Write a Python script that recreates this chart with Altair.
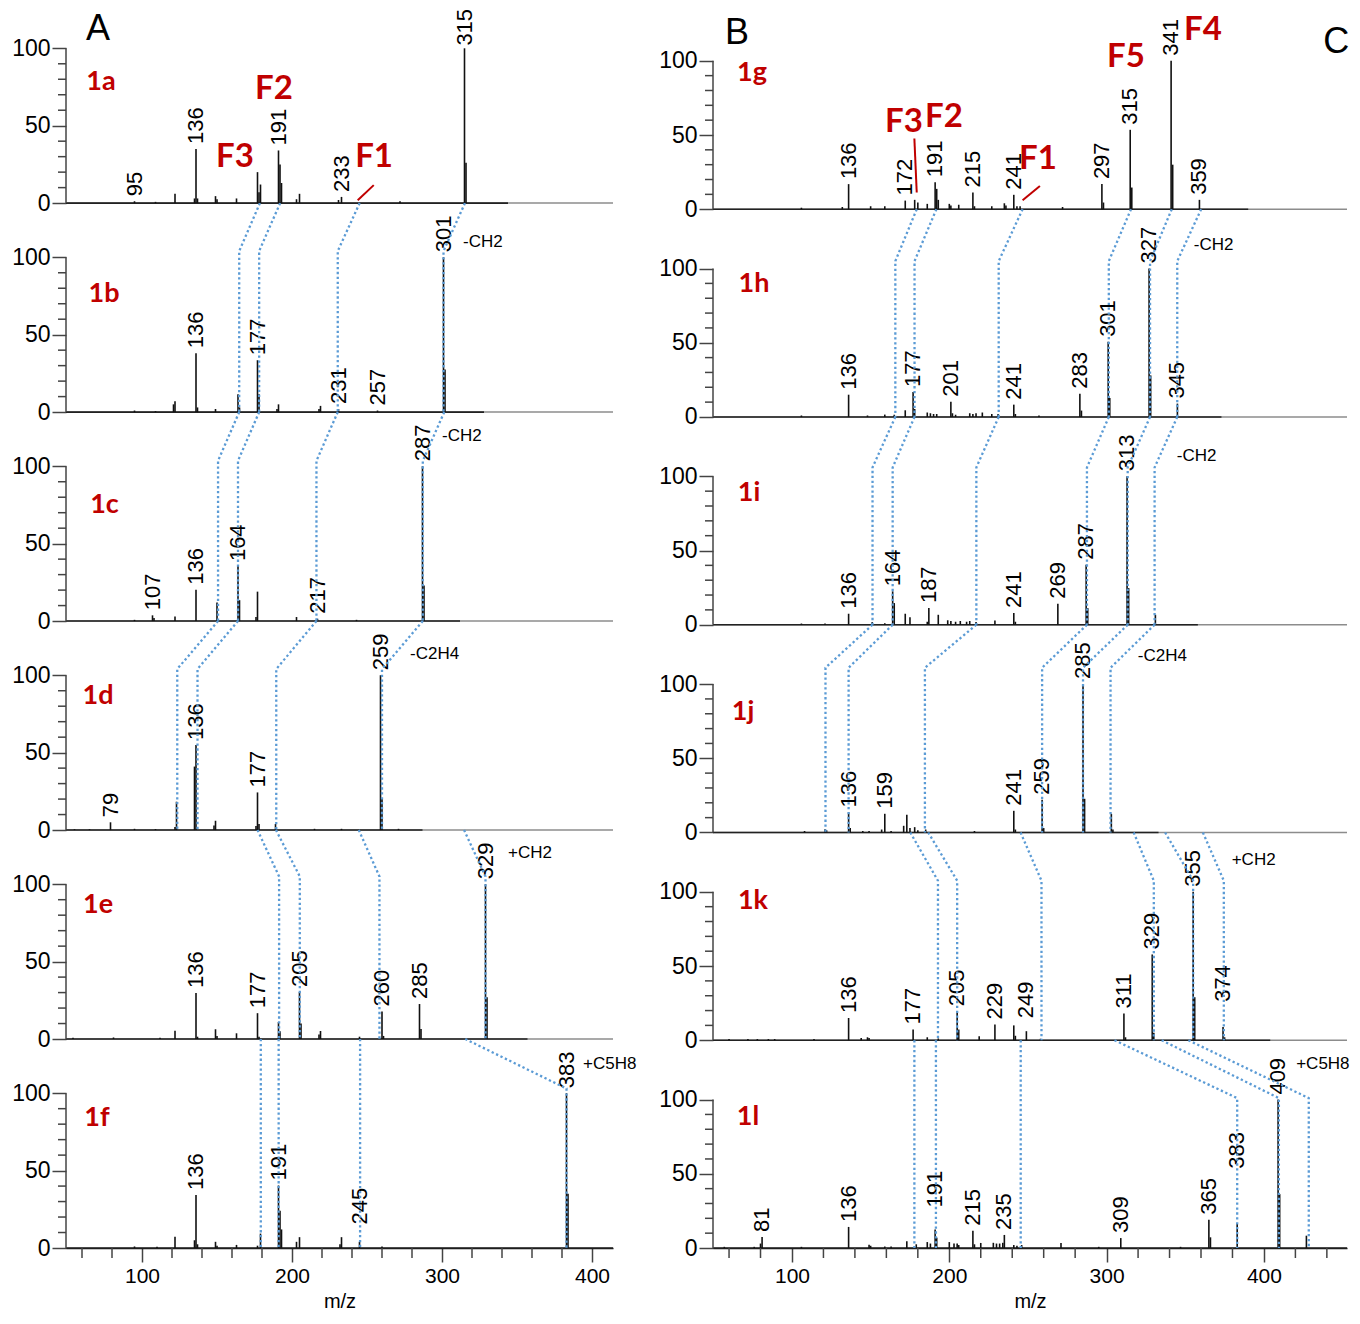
import altair as alt
import pandas as pd

FONT = "Liberation Sans"
LABEL_FONT = "Lato"
RED = "#C00000"
BLUE = "#5B9BD5"
INK = "#111111"
AXIS_INK = "#444444"

# ---------------- spectra: m/z and relative intensity (%) ----------------
MZ_1A = [95, 109, 122, 135, 136, 137, 149, 150, 163, 177, 178, 179, 191, 192, 193, 203, 205, 231, 233, 272, 315, 316]
IN_1A = [1.2, 0.8, 6, 3, 35, 3, 4.5, 2.5, 3, 20, 7, 12, 34, 25, 13, 2.5, 6, 2, 4, 1.2, 100, 26]
LB_1A = [95, 136, 191, 233, 315]

MZ_1B = [95, 109, 121, 122, 136, 137, 149, 164, 165, 177, 178, 190, 191, 218, 219, 231, 257, 301, 302]
IN_1B = [1, 0.6, 5, 7, 38, 3, 2, 11.5, 3, 33.5, 11.5, 2, 5, 2, 4, 2, 1, 100, 27.5]
LB_1B = [136, 177, 231, 257, 301]

MZ_1C = [95, 107, 108, 122, 136, 150, 164, 165, 176, 177, 203, 217, 243, 287, 288]
IN_1C = [0.8, 3.7, 2, 3, 20.3, 12, 35.5, 13.5, 2.6, 19, 2.6, 1.5, 0.8, 100, 23]
LB_1C = [107, 136, 164, 217, 287]

MZ_1D = [55, 65, 79, 95, 109, 122, 123, 135, 136, 148, 149, 176, 177, 178, 189, 215, 233, 259, 260, 271]
IN_1D = [0.5, 0.5, 5, 0.8, 0.6, 2, 18.3, 41, 55, 3, 6, 2.6, 24.3, 3.9, 3.9, 0.8, 0.8, 100, 20, 0.8]
LB_1D = [79, 136, 177, 259]

MZ_1E = [54, 81, 112, 122, 136, 137, 149, 150, 163, 177, 178, 191, 192, 205, 206, 218, 219, 245, 260, 261, 285, 286, 329, 330]
IN_1E = [0.8, 1, 0.8, 5.4, 29.8, 1.5, 6.3, 2, 3.7, 16.7, 1.5, 11, 5, 30.4, 10, 3, 5.2, 1.5, 17.8, 2, 22.6, 6.5, 100, 27]
LB_1E = [136, 177, 205, 260, 285, 329]

MZ_1F = [95, 110, 122, 135, 136, 137, 149, 150, 163, 177, 179, 191, 192, 193, 203, 205, 232, 233, 245, 260, 383, 384]
IN_1F = [1, 0.8, 7.2, 5, 34.3, 2.4, 4, 1.5, 2, 1.5, 9.3, 40.4, 24, 12, 4, 7, 2.5, 7, 4, 1, 100, 35]
LB_1F = [136, 191, 245, 383]

MZ_1G = [106, 132, 136, 150, 159, 172, 178, 180, 186, 191, 192, 193, 200, 201, 206, 215, 216, 227, 235, 236,
         241, 243, 245, 272, 297, 298, 315, 316, 341, 342, 359]
IN_1G = [1, 1.5, 16.9, 2, 2, 5.8, 6.3, 4.5, 3.6, 18.2, 13.7, 6.3, 3.6, 2.5, 3, 11.2, 2, 2, 4, 2.5,
         9.7, 2, 2, 1.5, 16.9, 4.5, 53.5, 14.6, 100, 30, 6.3]
LB_1G = [136, 172, 191, 215, 241, 297, 315, 341, 359]

MZ_1H = [106, 136, 148, 159, 165, 172, 177, 178, 186, 188, 190, 192, 201, 202, 204, 213, 215, 217, 221, 227,
         231, 241, 242, 257, 283, 284, 301, 302, 327, 328, 345]
IN_1H = [1, 15, 1, 1.6, 1.5, 4.5, 16.9, 5.4, 3, 2.5, 2, 2, 10.3, 2.5, 1.5, 2.5, 2, 2.5, 3, 2,
         2, 8.3, 2, 1, 15.7, 4.3, 50.6, 12.8, 100, 28, 9]
LB_1H = [136, 177, 201, 241, 283, 301, 327, 345]

MZ_1I = [106, 121, 136, 151, 159, 164, 165, 172, 175, 186, 187, 193, 199, 201, 204, 207, 211, 213, 217, 229,
         241, 242, 269, 287, 288, 313, 314, 331]
IN_1I = [0.8, 0.8, 7.4, 1.8, 1, 22.5, 14.6, 7.4, 5, 2, 11.2, 6.7, 3, 2.5, 2, 2.5, 2, 2.5, 1.8, 2.9,
         7.9, 2, 14.2, 40.4, 11.2, 100, 24.7, 6.7]
LB_1I = [136, 164, 187, 241, 269, 287, 313]

MZ_1J = [108, 121, 122, 136, 137, 145, 149, 157, 159, 163, 171, 173, 175, 178, 180, 185, 216, 241, 242, 259,
         260, 285, 286, 303, 304]
IN_1J = [1, 2.2, 1.5, 13.5, 3, 1, 1, 2, 12.6, 1, 4.5, 12, 3, 3.6, 1.5, 2, 1, 14.6, 2, 22,
         3, 100, 22.7, 12.6, 2]
LB_1J = [136, 159, 241, 259, 285]

MZ_1K = [60, 72, 78, 85, 89, 114, 136, 144, 148, 149, 177, 186, 193, 205, 206, 219, 229, 241, 242, 249,
         258, 311, 312, 329, 330, 355, 356, 374, 375]
IN_1K = [0.8, 0.8, 0.8, 0.8, 0.8, 0.8, 15, 1.5, 2, 1.5, 7.2, 2, 1.2, 19.5, 7.2, 2.7, 10.6, 10, 3, 6.1,
         1, 18, 2, 57.8, 5, 100, 29, 9, 2]
LB_1K = [136, 177, 205, 229, 249, 311, 329, 355, 374]

MZ_1L = [57, 76, 80, 81, 106, 136, 149, 150, 159, 163, 173, 179, 186, 188, 191, 192, 200, 203, 205, 206,
         215, 216, 220, 228, 230, 232, 234, 235, 241, 243, 246, 271, 295, 309, 347, 365, 366, 383, 409, 410, 427]
IN_1L = [0.8, 0.8, 3, 7.4, 0.8, 14.2, 2.2, 1.5, 1, 1, 4.5, 2.5, 4, 3, 12.4, 7, 4, 3, 3, 2,
         11.7, 2.5, 3.4, 3.5, 3, 3, 3.5, 8.8, 2, 1.5, 2, 3.4, 0.8, 6.7, 0.8, 19, 7.2, 16.8, 100, 36.3, 8.3]
LB_1L = [81, 136, 191, 215, 235, 309, 365, 383, 409]

SPECTRA = {
    "1a": (MZ_1A, IN_1A, LB_1A), "1b": (MZ_1B, IN_1B, LB_1B), "1c": (MZ_1C, IN_1C, LB_1C),
    "1d": (MZ_1D, IN_1D, LB_1D), "1e": (MZ_1E, IN_1E, LB_1E), "1f": (MZ_1F, IN_1F, LB_1F),
    "1g": (MZ_1G, IN_1G, LB_1G), "1h": (MZ_1H, IN_1H, LB_1H), "1i": (MZ_1I, IN_1I, LB_1I),
    "1j": (MZ_1J, IN_1J, LB_1J), "1k": (MZ_1K, IN_1K, LB_1K), "1l": (MZ_1L, IN_1L, LB_1L),
}
# labels printed at a height different from their peak top
LIFTED = {("1a", 315): 98.5, ("1f", 245): 12, ("1k", 249): 11.5, ("1k", 374): 22.5,
          ("1l", 191): 24, ("1l", 383): 50}
# last m/z of recorded trace per spectrum
TRACE_END = {"1a": 344, "1b": 328, "1c": 312, "1d": 287, "1e": 357, "1f": 414,
             "1g": 390, "1h": 373, "1i": 358, "1j": 333, "1k": 404, "1l": 455}

PANELS_A = ["1a", "1b", "1c", "1d", "1e", "1f"]
PANELS_B = ["1g", "1h", "1i", "1j", "1k", "1l"]

# connector lines: (upper panel, m/z on upper panel, m/z on lower panel, bend level in lower panel)
LINKS_A = [
    (0, 178.6, 164.8, 104), (0, 192.1, 178.1, 104), (0, 245.1, 230.5, 104), (0, 315.3, 301, 104),
    (1, 164.8, 150.7, 103.5), (1, 178.1, 164, 103.5), (1, 230.5, 216.3, 103.5), (1, 301.5, 287.2, 103.5),
    (2, 150.7, 123.5, 104), (2, 164, 137, 104), (2, 216.3, 189.5, 104), (2, 287.2, 260, 104),
    (3, 177, 191.4, 105), (3, 189.3, 205.2, 105), (3, 244.5, 258.3, 105), (3, 314.7, 329, 105),
    (4, 179.2, 179.2, None), (4, 191.1, 191.1, None), (4, 245.4, 245.4, None), (4, 315.5, 383, 103),
]
LINKS_B = [
    (0, 179.3, 165.7, 105), (0, 191.8, 177.9, 105), (0, 246.6, 231.4, 105), (0, 315.5, 301.4, 105),
    (0, 341.4, 327.6, 105), (0, 360.1, 344.9, 105),
    (1, 165.7, 151.2, 106), (1, 177.9, 164, 106), (1, 231.4, 217.2, 106), (1, 301.4, 287.5, 106),
    (1, 327.6, 313.4, 106), (1, 344.9, 330.5, 106),
    (2, 151.2, 121.3, 111), (2, 164, 136, 111), (2, 217.2, 184.5, 111), (2, 287.5, 259, 111),
    (2, 313.4, 285, 111), (2, 330.5, 302.5, 111),
    (3, 175.2, 192.8, 107.5), (3, 186.6, 205, 107.5), (3, 245.3, 258.6, 107.5), (3, 317.2, 330, 107.5),
    (3, 337.2, 355, 107.5), (3, 361.2, 374.5, 107.5),
    (4, 177.8, 177.8, None), (4, 191.5, 191.5, None), (4, 245.4, 245.4, None),
    (4, 305, 383, 101), (4, 335, 409.5, 101), (4, 352, 428.5, 101),
]

# red pointer strokes in the top spectra
RED_A = [[(243.8, 1.9), (254.5, 11.6)]]
RED_B = [[(179.3, 11.2), (177.8, 47.6)], [(246.6, 6.1), (257.6, 15.7)]]

# annotation placements (m/z, intensity within the panel)
PANEL_POS_A = [(72.7, 78), (74.7, 76.6), (75, 75), (70.7, 86.5), (70.7, 86.6), (70, 84)]
PANEL_POS_B = [(74.6, 91.8), (75.8, 89.6), (72.7, 89), (68.9, 80.9), (75.2, 93.7), (72, 88.3)]
FRAG_A = [("F2", 188, 73.5), ("F3", 162, 29.7), ("F1", 254.7, 29.7)]
FRAG_B = [("F3", 171.2, 58.8), ("F2", 196.6, 62.1), ("F1", 256.4, 33.8), ("F5", 312.3, 102.6), ("F4", 361.2, 120.5)]
NOTES_A = [(1, "-CH2", 314, 110), (2, "-CH2", 300, 119.5), (3, "-C2H4", 278.7, 113.5), (4, "+CH2", 344, 120),
           (5, "+C5H8", 394, 119)]
NOTES_B = [(1, "-CH2", 355.4, 116), (2, "-CH2", 344.6, 113.5), (3, "-C2H4", 319.8, 119), (4, "+CH2", 379.5, 121.6),
           (5, "+C5H8", 420.5, 124)]
LETTERS_A = [("A", 70.7, 112.5)]
LETTERS_B = [("B", 65, 118.5), ("C", 446, 113)]

H = 1240


def column(panels, S, ppu, xdom, width, links, reds, panel_pos, frags, notes, letters):
    ytop = -5 * S + H / ppu
    xs = alt.Scale(domain=xdom, nice=False, zero=False)
    ys = alt.Scale(domain=[-5 * S, ytop], nice=False, zero=False)
    xaxis = alt.Axis(values=[100, 200, 300, 400], format="d", tickSize=14, tickWidth=1.5, tickColor=AXIS_INK,
                     domainColor=INK, domainWidth=1.5, labelFont=FONT, labelFontSize=21, labelColor="black",
                     labelPadding=3, title="m/z", titleFont=FONT, titleFontSize=20, titleFontWeight="normal",
                     titleColor="black", titlePadding=5, grid=False)
    yvals = [v - i * S for i in range(6) for v in (0, 50, 100)]
    yaxis = alt.Axis(values=yvals, labelExpr=f"format(((datum.value % {S}) + {S}) % {S}, 'd')",
                     tickSize=14, tickWidth=1.5, tickColor=AXIS_INK, domain=False, grid=False, title=None,
                     labelFont=FONT, labelFontSize=23, labelColor="black", labelPadding=2,
                     labelFlush=False, labelOverlap=False)

    def X(f):
        return alt.X(f, type="quantitative", scale=xs, axis=xaxis)

    def Y(f):
        return alt.Y(f, type="quantitative", scale=ys, axis=yaxis)

    peaks, labels, gray, dark, yline, yminor = [], [], [], [], [], []
    for i, p in enumerate(panels):
        mzs, ins, lbs = SPECTRA[p]
        off = -i * S
        for m, v in zip(mzs, ins):
            peaks.append({"mz": m, "y0": off, "y1": v + off})
        for m in lbs:
            near = [v for mm, v in zip(mzs, ins) if abs(mm - m) < 0.6]
            anchor = LIFTED.get((p, m), max(near) if near else 0)
            labels.append({"mz": m, "y": anchor + off, "text": str(m)})
        if i < 5:
            gray.append({"y": off})
        dark.append({"x0": xdom[0], "x1": min(TRACE_END[p], xdom[1]), "y": off})
        yline.append({"y0": off, "y1": off + 100})
        for v in range(10, 100, 10):
            if v != 50:
                yminor.append({"y": off + v})
    xminor = [{"mz": m} for m in range(60, int(xdom[1]) + 1, 20) if m % 100 != 0]

    link_rows = []
    for k, (p, a, b, L) in enumerate(links):
        pts = [(a, -p * S)]
        if L is None:
            pts.append((b, -(p + 1) * S))
        else:
            pts += [(b, L - (p + 1) * S), (b, -(p + 1) * S)]
        for j, (mx, yy) in enumerate(pts):
            link_rows.append({"mz": mx, "y": yy, "path": k, "ord": j})

    red_rows = []
    for k, seg in enumerate(reds):
        for j, (mx, yy) in enumerate(seg):
            red_rows.append({"mz": mx, "y": yy, "seg": k, "ord": j})

    pl_rows = [{"mz": mx, "y": yy - i * S, "text": panels[i]} for i, (mx, yy) in enumerate(panel_pos)]
    fr_rows = [{"mz": mx, "y": yy, "text": t} for t, mx, yy in frags]
    nt_rows = [{"mz": mx, "y": yy - i * S, "text": t} for i, t, mx, yy in notes]
    lt_rows = [{"mz": mx, "y": yy, "text": t} for t, mx, yy in letters]

    layers = [
        alt.Chart(pd.DataFrame(gray)).mark_rule(color="#8c8c8c", strokeWidth=1.5).encode(
            x=alt.value(0), x2=alt.value(width), y=Y("y")),
        alt.Chart(pd.DataFrame(dark)).mark_rule(color="#222222", strokeWidth=1.6).encode(
            x=X("x0"), x2="x1", y=Y("y")),
        alt.Chart(pd.DataFrame(yline)).mark_rule(color=AXIS_INK, strokeWidth=1.5).encode(
            x=alt.value(0), y=Y("y0"), y2="y1"),
        alt.Chart(pd.DataFrame(yminor)).mark_rule(color=AXIS_INK, strokeWidth=1.5).encode(
            x=alt.value(-8), x2=alt.value(0), y=Y("y")),
        alt.Chart(pd.DataFrame(xminor)).mark_rule(color=AXIS_INK, strokeWidth=1.5).encode(
            x=X("mz"), y=alt.value(H), y2=alt.value(H + 10)),
        alt.Chart(pd.DataFrame(peaks)).mark_rule(color=INK, strokeWidth=1.6).encode(
            x=X("mz"), y=Y("y0"), y2="y1"),
        alt.Chart(pd.DataFrame(labels)).mark_text(angle=270, align="left", baseline="middle", dx=5,
                                                  font=FONT, fontSize=22, color="black").encode(
            x=X("mz"), y=Y("y"), text="text:N"),
        alt.Chart(pd.DataFrame(link_rows)).mark_line(color=BLUE, strokeWidth=2.3, strokeDash=[2.3, 2.6]).encode(
            x=X("mz"), y=Y("y"), detail="path:N", order="ord:Q"),
        alt.Chart(pd.DataFrame(red_rows)).mark_line(color=RED, strokeWidth=2).encode(
            x=X("mz"), y=Y("y"), detail="seg:N", order="ord:Q"),
        alt.Chart(pd.DataFrame(pl_rows)).mark_text(font=LABEL_FONT, fontWeight="bold", fontSize=27,
                                                   color=RED, baseline="middle").encode(
            x=X("mz"), y=Y("y"), text="text:N"),
        alt.Chart(pd.DataFrame(fr_rows)).mark_text(font=LABEL_FONT, fontWeight="bold", fontSize=33,
                                                   color=RED, baseline="middle").encode(
            x=X("mz"), y=Y("y"), text="text:N"),
        alt.Chart(pd.DataFrame(nt_rows)).mark_text(font=FONT, fontSize=17, color="black", align="left",
                                                   baseline="middle").encode(
            x=X("mz"), y=Y("y"), text="text:N"),
        alt.Chart(pd.DataFrame(lt_rows)).mark_text(font=FONT, fontSize=36, color="black",
                                                   baseline="middle").encode(
            x=X("mz"), y=Y("y"), text="text:N"),
    ]
    return alt.layer(*layers).properties(width=width, height=H)


col_a = column(PANELS_A, 135, 1.548, [49.33, 414.0], 547, LINKS_A, RED_A, PANEL_POS_A, FRAG_A, NOTES_A, LETTERS_A)
col_b = column(PANELS_B, 140, 1.484, [49.8, 452.8], 634, LINKS_B, RED_B, PANEL_POS_B, FRAG_B, NOTES_B, LETTERS_B)

chart = alt.hconcat(col_a, col_b, spacing=100, bounds="flush").properties(
    padding={"left": 3, "top": 0, "right": 0, "bottom": 0}
).configure_view(strokeWidth=0)

chart.save("out.html", embed_options={"renderer": "svg", "actions": False})
